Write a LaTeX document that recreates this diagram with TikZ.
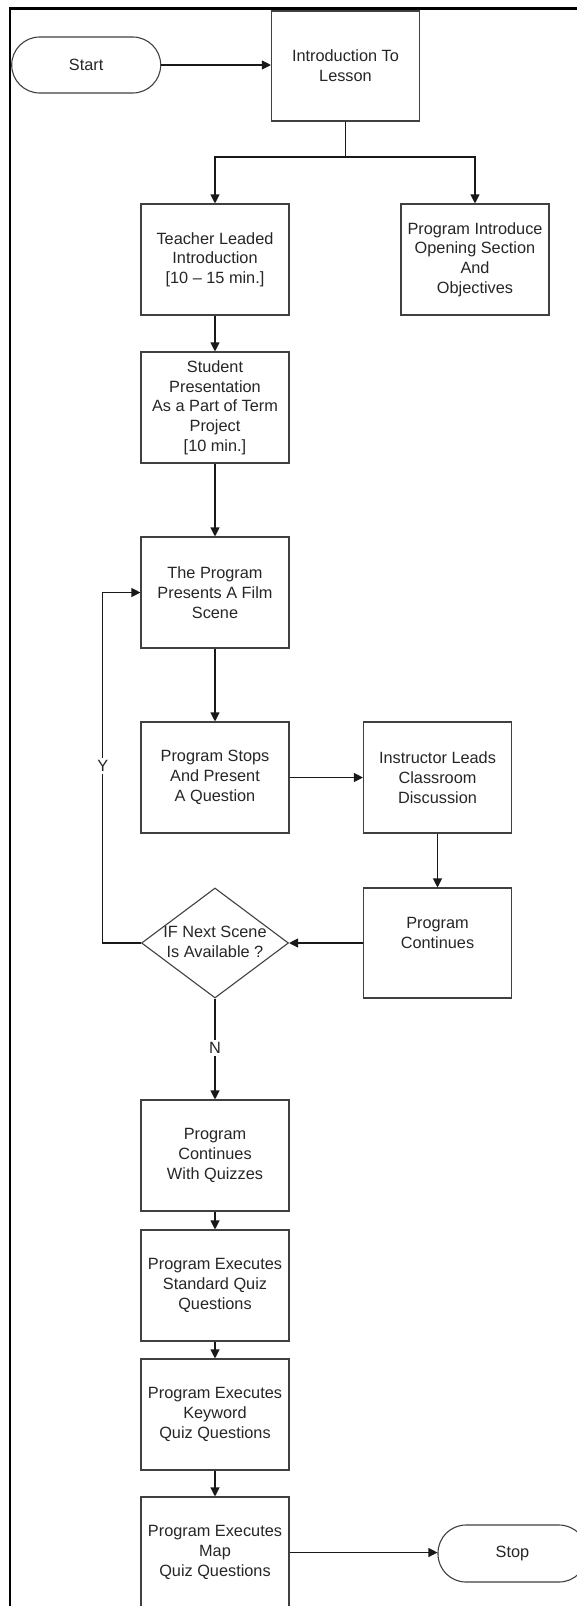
\documentclass[tikz,border=0pt]{standalone}
\usepackage{fontspec}
\setmainfont{Liberation Sans}
\usetikzlibrary{arrows.meta,shapes.geometric}
\newcommand\txtfont{\fontsize{16.3}{19.7}\selectfont}
\begin{document}
\begin{tikzpicture}[x=1pt,y=-1pt,
  box/.style={draw=black!75, line width=1.1pt, minimum width=148pt, minimum height=111pt, inner sep=0pt, align=center, font=\txtfont, text=black!85},
  term/.style={draw=black!75, line width=1.1pt, rounded corners=28pt, minimum width=149pt, minimum height=56pt, inner sep=0pt, align=center, font=\txtfont, text=black!85},
  dia/.style={draw=black!75, line width=1.1pt, diamond, minimum width=147pt, minimum height=110pt, inner sep=0pt},
  txt/.style={align=center, font=\txtfont, text=black!85, inner sep=0pt},
  lbl/.style={font=\txtfont, text=black!85, fill=white, inner sep=2pt},
  arr/.style={-{Triangle[length=9pt,width=9pt]}, line width=1.1pt, draw=black!90},
  ln/.style={line width=1.1pt, draw=black!90}]
\useasboundingbox (0,0) rectangle (576,1606);
\fill[white] (0,0) rectangle (576,1606);
% frame
\draw[line width=2.6pt] (10,1610) -- (10,8.7) -- (580,8.7);
% nodes
\node[term] (start) at (86.2,65) {Start};
\node[box, minimum height=110pt] (intro) at (345.5,66) {Introduction To\\Lesson};
\node[box] (teacher) at (215,259.5) {Teacher Leaded\\Introduction\\{[}10 \textendash{} 15 min.{]}};
\node[box] (progintro) at (475,259.5) {Program Introduce\\Opening Section\\And\\Objectives};
\node[box] (student) at (215,407.5) {Student\\Presentation\\As a Part of Term\\Project\\{[}10 min.{]}};
\node[box] (film) at (215,592.5) {The Program\\Presents A Film\\Scene};
\node[box] (stops) at (215,777.5) {Program Stops\\And Present\\A Question};
\node[box] (instr) at (437.5,777.5) {Instructor Leads\\Classroom\\Discussion};
\node[box, minimum height=110pt] (cont) at (437.5,943) {Program\\Continues\\\mbox{}};
\node[dia] (dec) at (215,943) {};
\node[txt] (dectext) at (215,942) {IF Next Scene\\Is Available ?};
\node[box] (quiz) at (215,1155.5) {Program\\Continues\\With Quizzes};
\node[box] (std) at (215,1285.5) {Program Executes\\Standard Quiz\\Questions};
\node[box] (key) at (215,1414.5) {Program Executes\\Keyword\\Quiz Questions};
\node[box] (map) at (215,1552.5) {Program Executes\\Map\\Quiz Questions};
\node[term, minimum height=57pt] (stop) at (512.5,1553.5) {Stop};
% connectors
\coordinate (br) at (345.5,157);
\coordinate (yl) at (102.7,943);
\draw[arr] (start.east) -- (start.east -| intro.west);
\draw[ln] (intro.south) -- (br);
\draw[arr] (br) -| (teacher.north);
\draw[arr] (br) -| (progintro.north);
\draw[arr] (teacher) -- (student);
\draw[arr] (student) -- (film);
\draw[arr] (film) -- (stops);
\draw[arr] (stops) -- (instr);
\draw[arr] (instr) -- (cont);
\draw[arr] (cont.west) -- (dec.east);
\draw[arr] (dec.west) -- (yl) |- (film.west);
\draw[arr] (dec.south) -- (quiz.north);
\draw[arr] (quiz) -- (std);
\draw[arr] (std) -- (key);
\draw[arr] (key) -- (map);
\draw[arr] (map.east) -- (map.east -| stop.west);
% labels
\node[lbl] (ylab) at (102.7,766) {Y};
\node[lbl] (nlab) at (215,1048) {N};
\end{tikzpicture}
\end{document}
